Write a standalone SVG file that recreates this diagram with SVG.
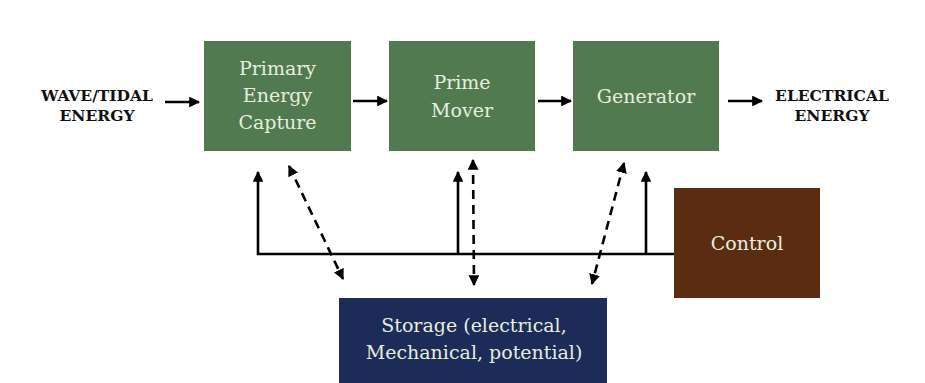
<svg xmlns="http://www.w3.org/2000/svg" width="925" height="383" viewBox="0 0 925 383">
<style>
.g{fill:#527a50}
.bt{font-family:"DejaVu Serif","Liberation Serif",serif;font-size:19px;fill:#e6eedf;text-anchor:middle}
.lb{font-family:"DejaVu Serif","Liberation Serif",serif;font-size:15.5px;font-weight:bold;fill:#111;text-anchor:middle}
.ln{stroke:#000;stroke-width:2.6;fill:none}
.ds{stroke:#000;stroke-width:2.6;fill:none;stroke-dasharray:9 6}
</style>
<defs>
<marker id="ah" viewBox="0 0 10 10" refX="9" refY="5" markerWidth="4.2" markerHeight="4.2" orient="auto-start-reverse" markerUnits="strokeWidth">
<path d="M0,0 L10,5 L0,10 z" fill="#000"/>
</marker>
</defs>
<rect width="925" height="383" fill="#fff"/>
<g id="wave-label">
<text class="lb" x="97" y="101">WAVE/TIDAL</text>
<text class="lb" x="97" y="121">ENERGY</text>
</g>
<g id="electrical-label">
<text class="lb" x="832" y="101">ELECTRICAL</text>
<text class="lb" x="832" y="121">ENERGY</text>
</g>
<g id="primary">
<rect class="g" x="204" y="41" width="147" height="110"/>
<text class="bt" x="277.5" y="75">Primary</text>
<text class="bt" x="277.5" y="102">Energy</text>
<text class="bt" x="277.5" y="129">Capture</text>
</g>
<g id="prime-mover">
<rect class="g" x="389" y="41" width="146" height="110"/>
<text class="bt" x="462" y="89">Prime</text>
<text class="bt" x="462" y="117">Mover</text>
</g>
<g id="generator">
<rect class="g" x="573" y="41" width="146" height="110"/>
<text class="bt" x="646" y="103">Generator</text>
</g>
<g id="control">
<rect x="674" y="188" width="146" height="110" fill="#5c2c12"/>
<text class="bt" x="747" y="250">Control</text>
</g>
<g id="storage">
<rect x="339" y="298" width="268" height="85" fill="#1c2b57"/>
<text class="bt" x="474" y="332">Storage (electrical,</text>
<text class="bt" x="474" y="359">Mechanical, potential)</text>
</g>
<g id="connectors">
<line class="ln" x1="165" y1="102" x2="199" y2="102" marker-end="url(#ah)"/>
<line class="ln" x1="353" y1="101" x2="387" y2="101" marker-end="url(#ah)"/>
<line class="ln" x1="538" y1="101" x2="571" y2="101" marker-end="url(#ah)"/>
<line class="ln" x1="728" y1="101" x2="762" y2="101" marker-end="url(#ah)"/>
<polyline class="ln" points="674,254 258,254 258,172" marker-end="url(#ah)"/>
<line class="ln" x1="458" y1="254" x2="458" y2="172" marker-end="url(#ah)"/>
<line class="ln" x1="646" y1="254" x2="646" y2="172" marker-end="url(#ah)"/>
<line class="ds" x1="289" y1="166" x2="343" y2="279" marker-start="url(#ah)" marker-end="url(#ah)"/>
<line class="ds" x1="473" y1="160" x2="474" y2="285" marker-start="url(#ah)" marker-end="url(#ah)"/>
<line class="ds" x1="624" y1="163" x2="592" y2="284" marker-start="url(#ah)" marker-end="url(#ah)"/>
</g>
</svg>
